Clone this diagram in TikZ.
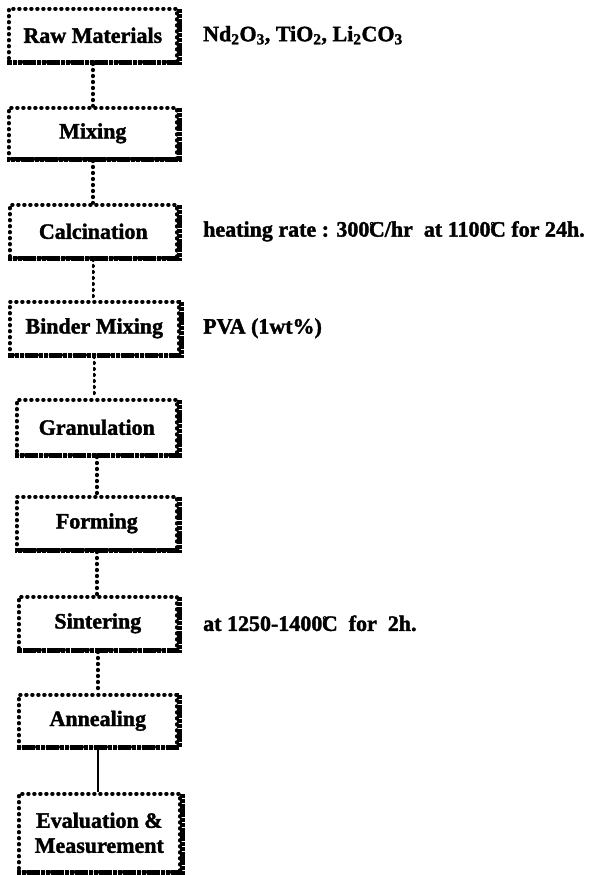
\documentclass[tikz,border=0pt]{standalone}
\usepackage{fontspec}
\setmainfont{Liberation Serif}
\newfontfamily\heavyfont{Liberation Serif Bold}[FakeBold=1.6]
\newcommand{\dgC}{\raisebox{0.3em}{\fontsize{12}{12}\selectfont °}\kern-0.24em C}
\begin{document}
\begin{tikzpicture}[x=1pt,y=-1pt]
\tikzset{
  procbox/.style={draw, line width=3.6pt, dash pattern=on 0.8pt off 5.2pt, line cap=round,
    inner sep=0pt, align=center, anchor=north west,
    font=\heavyfont\fontsize{22}{25}\selectfont},
  boxshadow/.style={line width=4.4pt, dash pattern=on 4.2pt off 0.6pt},
  dotconn/.style={line width=3.6pt, dash pattern=on 0.8pt off 5.2pt, line cap=round},
  solidconn/.style={line width=2.6pt},
  note/.style={anchor=west, inner sep=0pt, font=\heavyfont\fontsize{22}{25}\selectfont}
}
\useasboundingbox (0,0) rectangle (598,875);
\fill[white] (0,0) rectangle (598,875);

\node[procbox, minimum width=168pt, minimum height=53pt] (raw)    at (7,7)   {Raw Materials};
\node[procbox, minimum width=168pt, minimum height=51pt] (mix)    at (7,106) {Mixing};
\node[procbox, minimum width=167pt, minimum height=53pt] (calc)   at (8,203) {Calcination};
\node[procbox, minimum width=169pt, minimum height=53pt] (bind)   at (8,300) {Binder Mixing};
\node[procbox, minimum width=160pt, minimum height=55pt] (gran)   at (15,398) {Granulation};
\node[procbox, minimum width=160pt, minimum height=53pt] (form)   at (15,495) {Forming};
\node[procbox, minimum width=158pt, minimum height=53pt] (sint)   at (17,595) {Sintering};
\node[procbox, minimum width=158pt, minimum height=52pt] (anneal) at (17,693) {Annealing};
\node[procbox, minimum width=161pt, minimum height=78pt] (eval)   at (17,792) {Evaluation \&\\Measurement};

\foreach \bx in {raw,mix,calc,bind,gran,form,sint,anneal,eval}{
  \draw[boxshadow] ([xshift=1pt,yshift=-2pt]\bx.north east) -- ([xshift=1pt,yshift=1pt]\bx.south east) -- ([yshift=1pt]\bx.south west);
}

\draw[dotconn] (raw.south)  -- (raw.south |- mix.north);
\draw[dotconn] (mix.south)  -- (mix.south |- calc.north);
\draw[dotconn] (calc.south) -- (calc.south |- bind.north);
\draw[dotconn] (bind.south) -- (bind.south |- gran.north);
\draw[dotconn] (gran.south) -- (gran.south |- form.north);
\draw[dotconn] (form.south) -- (form.south |- sint.north);
\draw[dotconn] (sint.south) -- (sint.south |- anneal.north);
\draw[solidconn] (anneal.south) -- (anneal.south |- eval.north);

\coordinate (nx) at (203,0);
\node[note] (rawnote)  at (raw.center -| nx)  {Nd\textsubscript{2}O\textsubscript{3}, TiO\textsubscript{2}, Li\textsubscript{2}CO\textsubscript{3}};
\node[note] (calcnote) at (calc.center -| nx) {heating rate : 300\dgC/hr\ \ at 1100\dgC\ for 24h.};
\node[note] (bindnote) at (bind.center -| nx) {PVA (1wt\%)};
\node[note] (sintnote) at (sint.center -| nx) {at 1250-1400\dgC\ \ for\ \ 2h.};
\end{tikzpicture}
\end{document}
